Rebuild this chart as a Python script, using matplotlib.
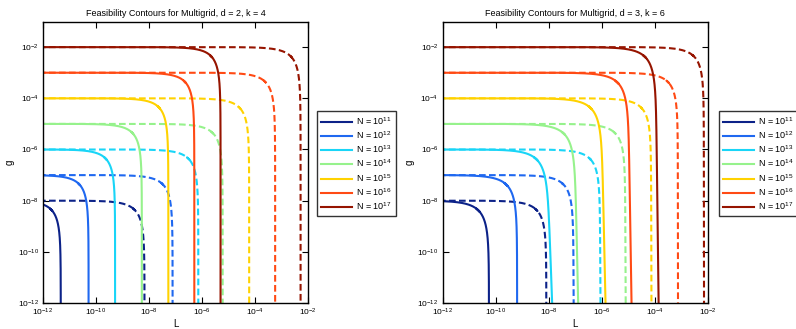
import numpy as np
import matplotlib
matplotlib.use("Agg")
import matplotlib.pyplot as plt
from matplotlib.lines import Line2D

plt.rcParams['font.family'] = ['Liberation Sans', 'DejaVu Sans']
plt.rcParams['mathtext.fontset'] = 'custom'
plt.rcParams['mathtext.rm'] = 'Liberation Sans'
plt.rcParams['mathtext.it'] = 'Liberation Sans:italic'

# number of points N = 10^n for each contour pair
n_exp = [11, 12, 13, 14, 15, 16, 17]
colors = ['#0c2288', '#1f68f0', '#19d5f7', '#96f28c', '#ffd200', '#ff4a14', '#961400']

# horizontal level g of every contour (same in both panels)
g_level = [1e-8, 1e-7, 1e-6, 1e-5, 1e-4, 1e-3, 1e-2]

# log10 of the L where each contour turns vertical (top of vertical part / at g = 1e-12)
left_solid_top = [-11.33, -10.28, -9.28, -8.27, -7.27, -6.29, -5.30]
left_solid_bot = [-11.33, -10.28, -9.28, -8.27, -7.27, -6.29, -5.30]
left_dash_top = [-8.17, -7.11, -6.14, -5.22, -4.22, -3.24, -2.28]
left_dash_bot = [-8.17, -7.11, -6.14, -5.22, -4.22, -3.24, -2.28]

right_solid_top = [-10.25, -9.19, -8.08, -7.04, -6.03, -5.02, -3.98]
right_solid_bot = [-10.25, -9.19, -7.87, -6.89, -5.86, -4.88, -3.86]
right_dash_top = [-8.09, -7.08, -6.08, -5.13, -4.15, -3.14, -2.16]
right_dash_bot = [-8.09, -7.06, -6.05, -5.10, -4.13, -3.13, -2.15]

x_ticks = [1e-12, 1e-10, 1e-8, 1e-6, 1e-4, 1e-2]
y_ticks = [1e-12, 1e-10, 1e-8, 1e-6, 1e-4, 1e-2]


def contour_curve(g0, l_top, l_bot, p, q):
    # level curve (g/g0)^p + (L/Lv(g))^q = 1, Lv drifting slightly with g
    u = np.logspace(-18, -0.3, 500)
    g = np.concatenate([g0 * (1 - u) ** (1 / p),
                        np.logspace(np.log10(g0) - 0.31, -13, 500)])
    frac = (np.log10(g0) - np.log10(g)) / (np.log10(g0) + 12)
    lv = 10 ** (l_top + (l_bot - l_top) * np.clip(frac, 0, 1.2))
    L = lv * np.clip(1 - (g / g0) ** p, 0, 1) ** (1 / q)
    return L, g


fig = plt.figure(figsize=(7.96, 3.29), dpi=100)
panels = [
    ([43 / 796, 26 / 329, 265 / 796, 281.5 / 329], 'Feasibility Contours for Multigrid, d = 2, k = 4',
     left_solid_top, left_solid_bot, left_dash_top, left_dash_bot, (0.75, 0.95), 317),
    ([442.5 / 796, 26 / 329, 265.5 / 796, 281.5 / 329], 'Feasibility Contours for Multigrid, d = 3, k = 6',
     right_solid_top, right_solid_bot, right_dash_top, right_dash_bot, (0.7, 0.85), 719),
]

for rect, title, s_top, s_bot, d_top, d_bot, solid_pq, leg_x in panels:
    ax = fig.add_axes(rect)
    handles = []
    for i in range(len(n_exp)):
        L, g = contour_curve(g_level[i], d_top[i], d_bot[i], 0.75, 0.9)
        ax.plot(L, g, color=colors[i], lw=1.5, dashes=(3.2, 1.6))
    for i in range(len(n_exp)):
        L, g = contour_curve(g_level[i], s_top[i], s_bot[i], *solid_pq)
        ax.plot(L, g, color=colors[i], lw=1.5)
        handles.append(Line2D([], [], color=colors[i], lw=1.5))
    ax.set_xscale('log')
    ax.set_yscale('log')
    ax.set_xlim(1e-12, 1e-2)
    ax.set_ylim(1e-12, 1e-1)
    ax.set_xticks(x_ticks)
    ax.set_yticks(y_ticks)
    ax.minorticks_off()
    ax.tick_params(direction='in', length=4, width=0.8, top=True, right=True,
                   labelsize=6, pad=3)
    ax.tick_params(axis='x', pad=2.5)
    for sp in ax.spines.values():
        sp.set_linewidth(1.0)
    ax.set_title(title, fontsize=6.5, pad=4)
    ax.set_xlabel('L', fontsize=7)
    ax.xaxis.set_label_coords(0.5, -0.058)
    ax.set_ylabel('g', fontsize=7, labelpad=2)
    labels = [r'N = $\mathdefault{10^{%d}}$' % n for n in n_exp]
    leg = fig.legend(handles, labels, loc='upper left',
                     bbox_to_anchor=(leg_x / 796, 1 - 111 / 329), fontsize=6.5,
                     frameon=True, fancybox=False, edgecolor='black',
                     handlelength=3.4, handletextpad=0.45, labelspacing=0.28,
                     borderpad=0.45, borderaxespad=0)
    leg.get_frame().set_linewidth(1.0)

fig.savefig('out.png', dpi=100)
